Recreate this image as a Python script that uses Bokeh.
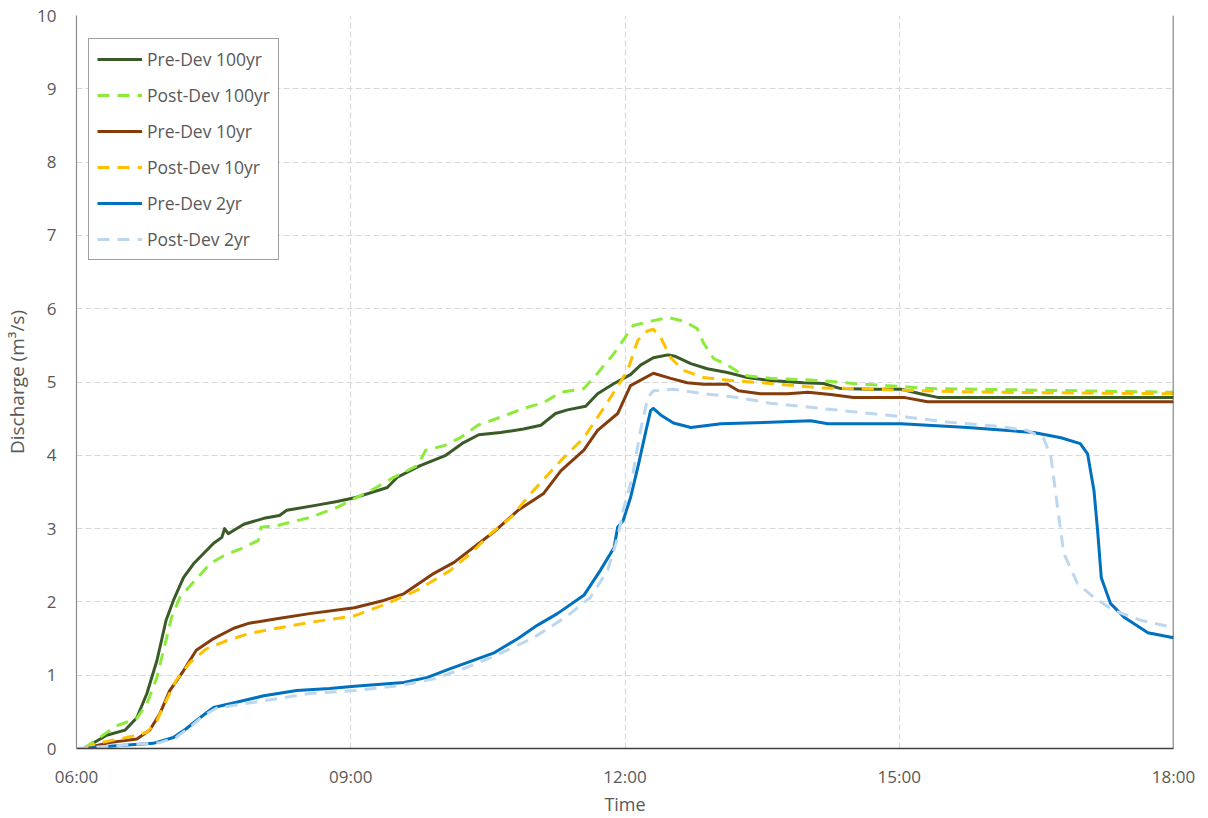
from bokeh.plotting import figure
from bokeh.models import Range1d, FixedTicker, Legend, LegendItem, Span
from bokeh.embed import file_html
from bokeh.resources import INLINE

# ---- data (hours since midnight, discharge m3/s) ----
pre100_t = [6.08, 6.33, 6.53, 6.66, 6.77, 6.88, 6.98, 7.06, 7.17, 7.28, 7.39, 7.5, 7.59, 7.62, 7.66,
            7.83, 8.05, 8.22, 8.30, 8.63, 8.85, 9.04, 9.40, 9.51, 9.76, 10.04, 10.23, 10.40, 10.64,
            10.89, 11.08, 11.24, 11.37, 11.57, 11.70, 11.88, 12.06, 12.17, 12.31, 12.47, 12.55,
            12.72, 12.9, 13.12, 13.34, 13.59, 13.95, 14.17, 14.36, 14.69, 15.02, 15.23, 15.42, 18.0]
pre100_q = [0.0, 0.18, 0.25, 0.42, 0.75, 1.2, 1.75, 2.02, 2.33, 2.52, 2.66, 2.8, 2.88, 3.0, 2.93,
            3.06, 3.14, 3.18, 3.25, 3.32, 3.37, 3.42, 3.56, 3.70, 3.86, 4.0, 4.17, 4.28, 4.31,
            4.36, 4.41, 4.57, 4.62, 4.67, 4.84, 4.98, 5.10, 5.23, 5.33, 5.37, 5.35,
            5.25, 5.18, 5.13, 5.06, 5.02, 4.99, 4.98, 4.91, 4.90, 4.90, 4.84, 4.79, 4.79]

post100_t = [6.08, 6.44, 6.66, 6.77, 6.88, 6.96, 7.04, 7.13, 7.28, 7.46, 7.61, 7.83, 7.99, 8.02, 8.19,
             8.55, 8.85, 9.04, 9.22, 9.47, 9.73, 9.82, 10.02, 10.2, 10.39, 10.64, 10.89, 11.11, 11.30,
             11.55, 11.70, 11.88, 12.03, 12.09, 12.28, 12.47, 12.64, 12.79, 12.86, 12.97, 13.12, 13.30,
             13.59, 14.14, 14.50, 14.87, 15.23, 15.38, 18.0]
post100_q = [0.0, 0.31, 0.41, 0.61, 0.97, 1.38, 1.79, 2.06, 2.27, 2.52, 2.63, 2.74, 2.84, 3.02, 3.04,
             3.15, 3.29, 3.41, 3.52, 3.70, 3.86, 4.07, 4.13, 4.24, 4.41, 4.52, 4.64, 4.72, 4.86,
             4.91, 5.12, 5.39, 5.66, 5.77, 5.83, 5.88, 5.83, 5.73, 5.53, 5.32, 5.23, 5.09,
             5.05, 5.02, 4.98, 4.95, 4.92, 4.91, 4.86]

pre10_t = [6.08, 6.36, 6.66, 6.80, 6.91, 7.02, 7.17, 7.31, 7.50, 7.72, 7.89, 8.19, 8.55, 9.04, 9.36,
           9.58, 9.91, 10.13, 10.34, 10.56, 10.83, 11.11, 11.30, 11.55, 11.70, 11.92, 12.06, 12.31,
           12.50, 12.68, 12.86, 13.12, 13.24, 13.48, 13.78, 14.0, 14.25, 14.50, 15.05, 15.31, 18.0]
pre10_q = [0.0, 0.08, 0.13, 0.25, 0.47, 0.79, 1.06, 1.34, 1.50, 1.64, 1.71, 1.77, 1.84, 1.92, 2.02,
           2.11, 2.39, 2.54, 2.74, 2.95, 3.25, 3.48, 3.79, 4.07, 4.34, 4.57, 4.95, 5.12,
           5.05, 4.99, 4.97, 4.97, 4.88, 4.84, 4.84, 4.86, 4.83, 4.79, 4.79, 4.73, 4.73]

post10_t = [6.08, 6.22, 6.55, 6.77, 6.88, 6.98, 7.09, 7.24, 7.42, 7.64, 7.89, 8.19, 8.55, 9.04, 9.40,
            9.73, 10.09, 10.31, 10.53, 10.75, 10.97, 11.30, 11.55, 11.77, 12.03, 12.14, 12.25, 12.31,
            12.39, 12.50, 12.64, 12.86, 13.16, 13.59, 14.14, 14.50, 15.23, 16.0, 18.0]
post10_q = [0.0, 0.07, 0.15, 0.22, 0.38, 0.65, 0.93, 1.17, 1.36, 1.47, 1.57, 1.64, 1.72, 1.81, 1.98,
            2.16, 2.43, 2.66, 2.93, 3.15, 3.48, 3.93, 4.24, 4.65, 5.16, 5.57, 5.70, 5.72,
            5.61, 5.33, 5.16, 5.06, 5.02, 4.98, 4.92, 4.91, 4.88, 4.86, 4.84]

pre2_t = [6.08, 6.36, 6.84, 7.06, 7.20, 7.35, 7.50, 7.75, 8.05, 8.41, 8.77, 9.04, 9.58, 9.84, 10.09,
          10.56, 10.83, 11.04, 11.26, 11.55, 11.73, 11.88, 11.92, 11.98, 12.06, 12.15, 12.23, 12.28,
          12.31, 12.39, 12.53, 12.72, 13.05, 13.59, 14.03, 14.22, 15.02, 15.75, 16.47, 16.77, 16.98,
          17.06, 17.13, 17.17, 17.21, 17.31, 17.46, 17.72, 18.0]
pre2_q = [0.0, 0.03, 0.07, 0.15, 0.27, 0.42, 0.56, 0.63, 0.72, 0.79, 0.82, 0.85, 0.90, 0.97, 1.09,
          1.30, 1.50, 1.68, 1.84, 2.09, 2.43, 2.74, 3.02, 3.11, 3.42, 3.89, 4.34, 4.61,
          4.64, 4.55, 4.44, 4.38, 4.43, 4.45, 4.47, 4.43, 4.43, 4.38, 4.31, 4.24, 4.16,
          4.02, 3.52, 2.97, 2.33, 1.98, 1.79, 1.58, 1.51]

post2_t = [6.0, 6.91, 7.09, 7.26, 7.39, 7.53, 7.83, 8.19, 8.55, 9.04, 9.55, 9.91, 10.28, 10.64, 11.0,
           11.37, 11.62, 11.81, 11.92, 11.98, 12.08, 12.17, 12.25, 12.31, 12.53, 12.86, 13.23, 13.59,
           14.14, 14.69, 15.23, 15.56, 16.11, 16.40, 16.58, 16.66, 16.74, 16.80, 16.95, 17.13, 17.35,
           17.64, 18.0]
post2_q = [0.0, 0.08, 0.15, 0.31, 0.45, 0.55, 0.61, 0.68, 0.75, 0.79, 0.86, 0.95, 1.11, 1.30, 1.51,
           1.81, 2.06, 2.43, 2.88, 3.25, 3.70, 4.34, 4.79, 4.88, 4.90, 4.84, 4.79, 4.71,
           4.64, 4.57, 4.50, 4.45, 4.39, 4.34, 4.23, 3.97, 3.21, 2.66, 2.25, 2.06, 1.88,
           1.75, 1.65]

x_ticks = [6, 9, 12, 15, 18]
x_tick_labels = ["06:00", "09:00", "12:00", "15:00", "18:00"]
y_ticks = [0, 1, 2, 3, 4, 5, 6, 7, 8, 9, 10]

series = [
    ("Pre-Dev 100yr", pre100_t, pre100_q, "#3A5A27", "solid"),
    ("Post-Dev 100yr", post100_t, post100_q, "#8CEB3A", "12 8"),
    ("Pre-Dev 10yr", pre10_t, pre10_q, "#843C0C", "solid"),
    ("Post-Dev 10yr", post10_t, post10_q, "#FFC000", "12 8"),
    ("Pre-Dev 2yr", pre2_t, pre2_q, "#0070C0", "solid"),
    ("Post-Dev 2yr", post2_t, post2_q, "#BDD7EE", "12 8"),
]

FONT = "Open Sans"
TXT = "#595959"

p = figure(width=1200, height=818, output_backend="svg", toolbar_location=None,
           x_range=Range1d(6, 18), y_range=Range1d(0, 10),
           min_border_left=76, min_border_top=15, min_border_right=27, min_border_bottom=70)
p.background_fill_color = "white"
p.border_fill_color = "white"
p.outline_line_color = None

# grids
for g in (p.xgrid, p.ygrid):
    g.grid_line_color = "#D9D9D9"
    g.grid_line_dash = "6 3"
    g.grid_line_width = 1.2
p.xaxis.ticker = FixedTicker(ticks=x_ticks)
p.yaxis.ticker = FixedTicker(ticks=y_ticks)
p.xaxis.major_label_overrides = {t: l for t, l in zip(x_ticks, x_tick_labels)}

for ax in (p.xaxis, p.yaxis):
    ax.major_tick_line_color = None
    ax.minor_tick_line_color = None
    ax.major_label_text_font = FONT
    ax.major_label_text_font_size = "17px"
    ax.major_label_text_color = TXT
    ax.axis_label_text_font = FONT
    ax.axis_label_text_font_size = "18px"
    ax.axis_label_text_font_style = "normal"
    ax.axis_label_text_color = TXT

p.yaxis.axis_label_text_font_size = "19px"
p.xaxis.axis_line_color = "#404040"
p.xaxis.axis_line_width = 1.5
p.yaxis.axis_line_color = "#8C8C8C"
p.yaxis.axis_line_width = 1.2
p.xaxis.major_label_standoff = 10
p.yaxis.major_label_standoff = 14
p.xaxis.axis_label = "Time"
p.xaxis.axis_label_standoff = 1
p.yaxis.axis_label = "Discharge (m³/s)"
p.yaxis.axis_label_standoff = 4

p.add_layout(Span(location=18, dimension="height", line_color="#404040", line_width=1.5))

items = []
for name, t, q, col, dash in series:
    r = p.line(t, q, line_color=col, line_width=3, line_dash=dash, line_join="round", line_cap="butt")
    items.append(LegendItem(label=name, renderers=[r]))

legend = Legend(items=items, location=(12, 488), margin=0, padding=8, spacing=12,
                glyph_width=45, glyph_height=20, label_height=20, label_standoff=5,
                label_text_font=FONT, label_text_font_size="17.5px", label_text_color=TXT,
                border_line_color="#404040", border_line_width=1.2,
                background_fill_color="white", background_fill_alpha=1)
p.add_layout(legend)

open("out.html", "w").write(file_html(p, INLINE))
